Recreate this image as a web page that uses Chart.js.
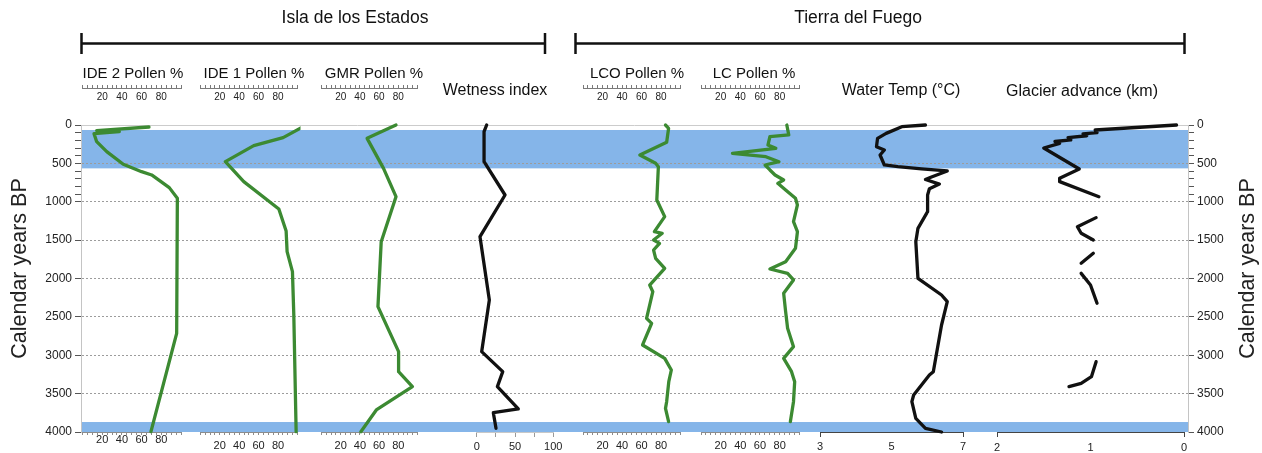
<!DOCTYPE html>
<html>
<head>
<meta charset="utf-8">
<title>Isla de los Estados / Tierra del Fuego records</title>
<script src="https://cdn.jsdelivr.net/npm/chart.js@4.4.1/dist/chart.umd.min.js"></script>
<style>
  html, body { margin: 0; padding: 0; background: #fff; }
  #wrap { width: 1262px; height: 453px; }
</style>
</head>
<body>
<div id="wrap"><canvas id="chart" width="1262" height="453"></canvas></div>
<script>
// ---- values (years BP -> value) ----
const ide2Years  = [26, 74, 87, 113, 217, 347, 512, 608, 651, 816, 955, 2714, 3995];
const ide2Pollen = [67.5, 14.4, 37.4, 11.7, 14.4, 24.6, 41.4, 60.0, 70.2, 88.1, 96.3, 95.6, 69.5];

const ide1Years  = [26, 165, 269, 478, 738, 1094, 1381, 1650, 1911, 2475, 3996];
const ide1Pollen = [105.5, 85.2, 55.0, 25.8, 44.7, 80.8, 88.3, 89.3, 94.8, 96.2, 98.6];

const gmrYears  = [0, 174, 565, 934, 1520, 2367, 2953, 3214, 3409, 3713, 3996];
const gmrPollen = [77.6, 47.5, 64.6, 77.6, 62.2, 58.8, 80.3, 80.3, 94.7, 57.1, 41.0];

const wetYears = [0, 87, 478, 912, 1455, 2280, 2953, 3214, 3409, 3700, 3748, 3952];
const wetIndex = [13.0, 9.6, 9.6, 37.0, 4.3, 16.5, 6.5, 34.0, 27.0, 54.3, 21.7, 25.2];

const lcoYears  = [0, 43, 226, 391, 499, 543, 977, 1194, 1390, 1411, 1498, 1542, 1629, 1737, 1867, 2085, 2172, 2519, 2584, 2866, 3040, 3192, 3344, 3605, 3692, 3865];
const lcoPollen = [84.6, 87.8, 85.8, 58.3, 74.5, 77.3, 75.7, 83.8, 73.2, 81.3, 72.4, 78.5, 72.4, 74.5, 83.8, 68.4, 71.6, 65.2, 70.4, 61.1, 83.8, 90.6, 88.0, 85.8, 84.6, 87.8];

const lcYears  = [0, 130, 152, 261, 304, 369, 413, 478, 521, 586, 651, 717, 760, 847, 955, 1042, 1259, 1390, 1607, 1781, 1876, 1933, 2019, 2193, 2432, 2649, 2888, 3040, 3214, 3344, 3605, 3865];
const lcPollen = [87.3, 89.3, 70.1, 68.1, 76.1, 32.0, 66.0, 79.3, 65.2, 70.1, 75.3, 84.1, 78.1, 86.1, 96.1, 98.1, 94.1, 98.1, 96.1, 86.1, 70.1, 88.1, 94.1, 84.1, 86.1, 88.1, 94.1, 84.1, 92.1, 95.3, 94.1, 90.9];

const tempYears = [0, 22, 109, 174, 282, 326, 391, 456, 521, 543, 573, 599, 680, 710, 770, 830, 912, 1129, 1346, 1520, 1998, 2215, 2302, 2606, 3214, 3257, 3518, 3605, 3822, 3952, 4000];
const tempC     = [5.95, 5.29, 4.85, 4.61, 4.58, 4.80, 4.68, 4.74, 4.80, 5.18, 5.84, 6.56, 6.10, 5.95, 6.34, 6.06, 6.01, 6.01, 5.74, 5.68, 5.74, 6.40, 6.56, 6.40, 6.17, 6.06, 5.62, 5.57, 5.68, 5.95, 6.40];

// null = no record (gap in the line)
const glacierYears = [0, 65, 100, 115, 140, 165, 195, 215, 240, 300, 573, 695, 738, 934, 1070, 1207, 1325, 1411, 1498, 1585, 1672, 1802, 1870, 1933, 2085, 2323, 2700, 3084, 3279, 3366, 3409];
const glacierKm    = [0.08, 0.95, 0.93, 1.08, 1.04, 1.24, 1.21, 1.38, 1.33, 1.50, 1.12, 1.33, 1.33, 0.91, null, 0.94, 1.14, 1.10, 0.97, null, 0.97, 1.10, null, 1.10, 1.00, 0.93, null, 0.94, 0.99, 1.10, 1.23];

// shaded periods (years BP)
const bandStart = [65, 3870];
const bandEnd   = [565, 4000];

// tick labels
const yearTicks    = [0, 500, 1000, 1500, 2000, 2500, 3000, 3500, 4000];
const pollenTicks  = [20, 40, 60, 80];
const wetnessTicks = [0, 50, 100];
const tempTicks    = [3, 5, 7];
const glacierTicks = [2, 1, 0];

const yTitle = 'Calendar years BP';
const groups = [
  { label: 'Isla de los Estados', from: 81.5, to: 545, labelX: 355 },
  { label: 'Tierra del Fuego', from: 575.5, to: 1184.5, labelX: 858 }
];

// ---- layout of the panels ----
const FONT = '"Liberation Sans", Arial, Helvetica, sans-serif';
const GREEN = '#3c8a32';
const BLACK = '#111111';
const MINI_Y = 88;

const pollenAxis = { min: 0, max: 100, step: 5, labels: pollenTicks, mini: true, tickLen: 3, axisColor: '#8c8c8c', tickColor: '#8c8c8c', titleSize: 15, titleY: 78 };
const panels = [
  Object.assign({}, pollenAxis, { id: 'ide2', title: 'IDE 2 Pollen %', titleX: 133, left: 82.5, right: 181, pad: -1.5 }),
  Object.assign({}, pollenAxis, { id: 'ide1', title: 'IDE 1 Pollen %', titleX: 254, left: 200.3, right: 297.5, pad: 4.4 }),
  Object.assign({}, pollenAxis, { id: 'gmr', title: 'GMR Pollen %', titleX: 374, left: 321.5, right: 417.5, pad: 4.4 }),
  { id: 'wet', title: 'Wetness index', titleX: 495, titleY: 95, titleSize: 16, min: 0, max: 100, step: 25, labels: wetnessTicks,
    left: 476.7, right: 553.3, pad: 3.5, tickLen: 5, axisColor: '#c8c8c8', tickColor: '#9a9a9a' },
  Object.assign({}, pollenAxis, { id: 'lco', title: 'LCO Pollen %', titleX: 637, left: 583, right: 680.5, pad: 4.4 }),
  Object.assign({}, pollenAxis, { id: 'lc', title: 'LC Pollen %', titleX: 754, left: 701, right: 799.3, pad: 4.4 }),
  { id: 'temp', title: 'Water Temp (°C)', titleX: 901, titleY: 95, titleSize: 16, min: 3, max: 7, step: 2, labels: tempTicks, marks: [3, 7],
    left: 820, right: 963, pad: 3, tickLen: 5, axisColor: '#444', tickColor: '#444' },
  { id: 'glacier', title: 'Glacier advance (km)', titleX: 1082, titleY: 96, titleSize: 16, min: 0, max: 2, step: 1, reverse: true, labels: glacierTicks, marks: [0, 2],
    left: 997, right: 1184, pad: 4, tickLen: 5, axisColor: '#444', tickColor: '#444' }
];

const series = [
  { axis: 'ide2', years: ide2Years, vals: ide2Pollen, color: GREEN },
  { axis: 'ide1', years: ide1Years, vals: ide1Pollen, color: GREEN },
  { axis: 'gmr', years: gmrYears, vals: gmrPollen, color: GREEN },
  { axis: 'wet', years: wetYears, vals: wetIndex, color: BLACK },
  { axis: 'lco', years: lcoYears, vals: lcoPollen, color: GREEN },
  { axis: 'lc', years: lcYears, vals: lcPollen, color: GREEN },
  { axis: 'temp', years: tempYears, vals: tempC, color: BLACK },
  { axis: 'glacier', years: glacierYears, vals: glacierKm, color: BLACK }
];

// panel axes take no room in the layout; they are put in place after it
function flatten(scale) {
  scale.height = 0;
  scale.paddingLeft = 0;
  scale.paddingRight = 0;
}

function panelAxis(p, mini) {
  return {
    type: 'linear',
    position: 'bottom',
    min: p.min,
    max: p.max,
    reverse: !!p.reverse,
    afterFit: flatten,
    border: { color: mini ? '#7a7a7a' : p.axisColor, width: 1 },
    grid: {
      drawOnChartArea: false,
      tickLength: mini ? -3 : p.tickLen,
      tickWidth: 1,
      tickColor: ctx => (!ctx.tick || !p.marks || p.marks.includes(ctx.tick.value)) ? (mini ? '#7a7a7a' : p.tickColor) : 'rgba(0,0,0,0)'
    },
    ticks: {
      stepSize: p.step,
      autoSkip: false,
      maxRotation: 0,
      minRotation: 0,
      padding: mini ? 5.8 : p.pad,
      color: '#222',
      font: { size: mini ? 10 : 11 },
      callback: v => p.labels.includes(v) ? String(v) : ''
    }
  };
}

const yearTickColor = ctx => (ctx.tick && (ctx.tick.value % 500 === 0 || ctx.tick.value < 1000)) ? '#555' : 'rgba(0,0,0,0)';

const scales = {
  y: {
    type: 'linear', position: 'left', min: 0, max: 4000, reverse: true,
    afterFit: s => { s.width = 81; },
    border: { color: '#c4c4c4', width: 1, dash: [2, 2] },
    grid: {
      color: ctx => (ctx.tick && ctx.tick.value % 500 === 0 && ctx.tick.value > 0 && ctx.tick.value < 4000) ? '#9c9c9c' : 'rgba(0,0,0,0)',
      tickLength: 6,
      tickColor: yearTickColor,
      tickBorderDash: []
    },
    ticks: { stepSize: 100, autoSkip: false, padding: 3, color: '#222', font: { size: 12 },
      callback: v => yearTicks.includes(v) ? String(v) : '' }
  },
  y2: {
    type: 'linear', position: 'right', min: 0, max: 4000, reverse: true,
    afterFit: s => { s.width = 74; },
    border: { color: '#c4c4c4', width: 1 },
    grid: {
      color: ctx => (ctx.tick && ctx.tick.value === 0) ? '#cccccc' : 'rgba(0,0,0,0)',
      tickLength: 6,
      tickColor: yearTickColor
    },
    ticks: { stepSize: 100, autoSkip: false, padding: 3, color: '#222', font: { size: 12 },
      callback: v => yearTicks.includes(v) ? String(v) : '' }
  }
};

panels.forEach(p => {
  scales[p.id] = panelAxis(p, false);
  if (p.mini) scales[p.id + 'Top'] = panelAxis(p, true);
});

function place(scale, left, right, top, depth) {
  scale.left = left;
  scale.right = right;
  scale.width = right - left;
  scale.top = top;
  scale.bottom = top + depth;   // labels are clipped to this box
  scale.height = depth;
  scale.configure();
}

function verticalTitle(ctx, x, y) {
  ctx.save();
  ctx.font = '21.5px ' + FONT;
  ctx.fillStyle = '#222';
  ctx.textAlign = 'center';
  ctx.textBaseline = 'middle';
  ctx.translate(x, y);
  ctx.rotate(-Math.PI / 2);
  ctx.fillText(yTitle, 0, 0);
  ctx.restore();
}

const decorations = {
  id: 'decorations',
  afterLayout(chart) {
    const bottom = chart.chartArea.bottom;
    panels.forEach(p => {
      place(chart.scales[p.id], p.left, p.right, bottom, chart.height - bottom);
      if (p.mini) place(chart.scales[p.id + 'Top'], p.left, p.right, MINI_Y, 18);
    });
  },
  beforeDraw(chart) {
    const { ctx, chartArea } = chart;
    const y = chart.scales.y;
    ctx.save();
    ctx.fillStyle = '#85b5e9';
    bandStart.forEach((s, i) => {
      const y1 = y.getPixelForValue(s);
      const y2 = y.getPixelForValue(bandEnd[i]);
      ctx.fillRect(chartArea.left, y1, chartArea.right - chartArea.left, y2 - y1);
    });
    ctx.restore();
  },
  afterDraw(chart) {
    const { ctx, chartArea } = chart;
    ctx.save();
    ctx.fillStyle = '#111';
    ctx.strokeStyle = '#111';
    ctx.textAlign = 'center';
    ctx.textBaseline = 'alphabetic';

    // group brackets
    ctx.lineWidth = 2.5;
    groups.forEach(g => {
      ctx.beginPath();
      ctx.moveTo(g.from, 43.5);
      ctx.lineTo(g.to, 43.5);
      ctx.moveTo(g.from, 33);
      ctx.lineTo(g.from, 54);
      ctx.moveTo(g.to, 33);
      ctx.lineTo(g.to, 54);
      ctx.stroke();
      ctx.font = '17.5px ' + FONT;
      ctx.fillText(g.label, g.labelX, 23);
    });

    // panel titles
    panels.forEach(p => {
      ctx.font = p.titleSize + 'px ' + FONT;
      ctx.fillText(p.title, p.titleX, p.titleY);
    });
    ctx.restore();

    // axis titles on both sides
    const midY = (chartArea.top + chartArea.bottom) / 2 - 10;
    verticalTitle(ctx, 20, midY);
    verticalTitle(ctx, 1248, midY);
  }
};

Chart.defaults.font.family = FONT;
Chart.defaults.color = '#222';

new Chart(document.getElementById('chart'), {
  type: 'line',
  data: {
    datasets: series.map(s => ({
      data: s.years.map((yr, i) => ({ x: s.vals[i], y: yr })),
      xAxisID: s.axis,
      yAxisID: 'y',
      borderColor: s.color,
      borderWidth: 3.3,
      pointRadius: 0,
      tension: 0,
      spanGaps: false,
      borderJoinStyle: 'round',
      borderCapStyle: 'round',
      clip: 3
    }))
  },
  options: {
    responsive: false,
    animation: false,
    devicePixelRatio: 1,
    layout: { padding: { top: 125, bottom: 21, left: 0, right: 0 } },
    plugins: { legend: { display: false }, tooltip: { enabled: false } },
    events: [],
    scales: scales
  },
  plugins: [decorations]
});
</script>
</body>
</html>
